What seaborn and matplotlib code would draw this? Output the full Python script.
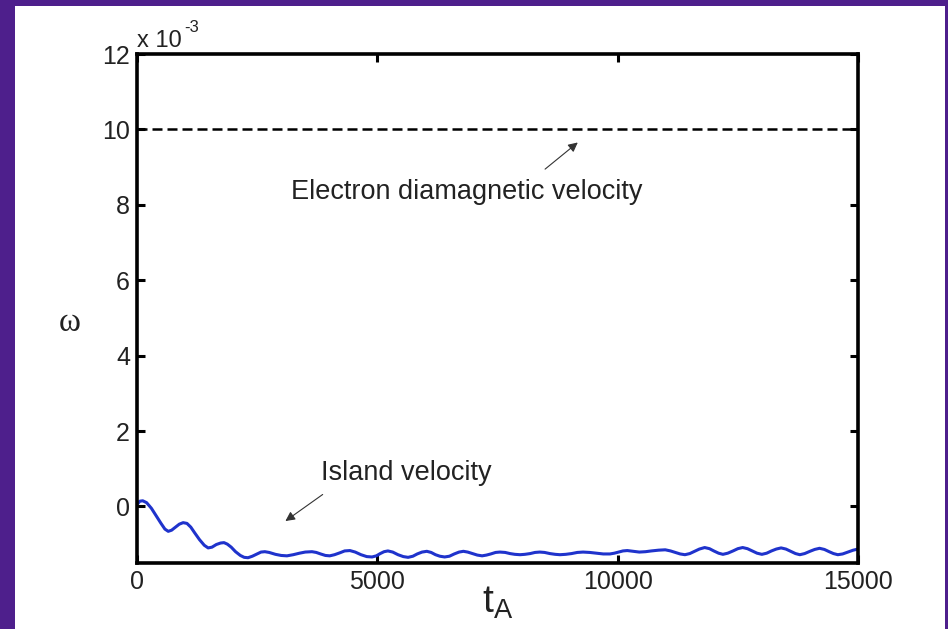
import matplotlib
matplotlib.use("Agg")
import matplotlib.pyplot as plt
import seaborn as sns
import pandas as pd

# Island velocity omega (in units of 1e-3) vs time t_A
t_island = [0, 60, 120, 200, 300, 400, 500, 580, 650, 720, 800, 880, 960, 1040, 1120,
            1200, 1300, 1400, 1480, 1560, 1650, 1740, 1810, 1880, 1960, 2050, 2150,
            2230, 2310, 2400, 2500, 2580, 2660, 2750, 2880, 3000, 3120, 3250, 3380,
            3500, 3640, 3730, 3820, 3920, 4010, 4110, 4220, 4320, 4430, 4540, 4660,
            4780, 4890, 4980, 5060, 5140, 5220, 5320, 5430, 5540, 5640, 5740, 5830,
            5930, 6030, 6120, 6210, 6300, 6400, 6500, 6600, 6700, 6790, 6880, 6980,
            7080, 7180, 7270, 7360, 7460, 7550, 7660, 7760, 7860, 7970, 8070, 8180,
            8280, 8380, 8480, 8590, 8700, 8800, 8920, 9040, 9160, 9280, 9420, 9560,
            9700, 9840, 9930, 10020, 10110, 10200, 10320, 10450, 10580, 10700, 10850,
            10990, 11100, 11200, 11300, 11400, 11500, 11600, 11700, 11810, 11910,
            12000, 12100, 12190, 12290, 12400, 12500, 12600, 12700, 12800, 12900,
            13000, 13100, 13200, 13300, 13400, 13500, 13600, 13700, 13790, 13890,
            14000, 14100, 14200, 14300, 14400, 14490, 14580, 14680, 14790, 14900, 15000]
w_island = [0.05, 0.14, 0.15, 0.10, -0.05, -0.25, -0.45, -0.60, -0.66, -0.63, -0.55,
            -0.47, -0.43, -0.45, -0.55, -0.70, -0.88, -1.03, -1.10, -1.08, -1.01, -0.97,
            -0.96, -1.00, -1.08, -1.20, -1.30, -1.35, -1.36, -1.32, -1.26, -1.21, -1.20,
            -1.22, -1.27, -1.30, -1.31, -1.28, -1.24, -1.21, -1.20, -1.22, -1.26, -1.30,
            -1.31, -1.28, -1.23, -1.18, -1.17, -1.21, -1.28, -1.33, -1.34, -1.31, -1.25,
            -1.20, -1.18, -1.21, -1.28, -1.33, -1.35, -1.32, -1.26, -1.21, -1.19, -1.22,
            -1.28, -1.32, -1.34, -1.32, -1.26, -1.21, -1.19, -1.21, -1.25, -1.29, -1.31,
            -1.29, -1.26, -1.22, -1.21, -1.22, -1.25, -1.27, -1.28, -1.27, -1.25, -1.22,
            -1.21, -1.22, -1.25, -1.27, -1.28, -1.27, -1.25, -1.22, -1.21, -1.22, -1.24,
            -1.26, -1.26, -1.24, -1.21, -1.18, -1.17, -1.19, -1.21, -1.20, -1.18, -1.16,
            -1.15, -1.18, -1.22, -1.26, -1.28, -1.25, -1.19, -1.13, -1.09, -1.12, -1.18,
            -1.24, -1.27, -1.24, -1.18, -1.12, -1.09, -1.12, -1.18, -1.24, -1.27, -1.24,
            -1.18, -1.13, -1.10, -1.13, -1.19, -1.25, -1.28, -1.25, -1.19, -1.14, -1.11,
            -1.14, -1.20, -1.25, -1.28, -1.26, -1.21, -1.16, -1.13]

# Electron diamagnetic velocity (units of 1e-3)
t_dia = [0, 15000]
w_dia = [10, 10]

x_ticks = [0, 5000, 10000, 15000]
y_ticks = [0, 2, 4, 6, 8, 10, 12]
label_dia = "Electron diamagnetic velocity"
label_island = "Island velocity"

sns.set_style("ticks")
plt.rcParams['font.family'] = ['Liberation Sans', 'DejaVu Sans']

fig = plt.figure(figsize=(9.48, 6.29), dpi=100)
fig.patch.set_facecolor('#4e1f8c')
bg = fig.add_axes([15/948, 0, (945-15)/948, 1 - 6/629], zorder=-10)
bg.set_facecolor('white')
bg.set_xticks([])
bg.set_yticks([])
for s in bg.spines.values():
    s.set_visible(False)

ax = fig.add_axes([137/948, 1 - 563/629, (858-137)/948, (563-54)/629])
ax.set_facecolor('white')

df_i = pd.DataFrame({'t': t_island, 'w': w_island})
df_d = pd.DataFrame({'t': t_dia, 'w': w_dia})
sns.lineplot(data=df_i, x='t', y='w', ax=ax, color='#1f33cc', lw=2.2, sort=False)
sns.lineplot(data=df_d, x='t', y='w', ax=ax, color='black', lw=1.8, sort=False,
             dashes=False, linestyle=(0, (4, 2)))

ax.set_xlim(0, 15000)
ax.set_ylim(-1.5, 12)
ax.set_xticks(x_ticks)
ax.set_yticks(y_ticks)
ax.set_xticklabels([str(v) for v in x_ticks])
ax.set_yticklabels([str(v) for v in y_ticks])
ax.tick_params(direction='in', length=6, width=2.2, labelsize=18, colors='black',
               labelcolor='#222222', top=True, right=True, pad=5)
for s in ax.spines.values():
    s.set_visible(True)
    s.set_linewidth(2.6)
    s.set_color('black')

ax.set_xlabel(r'$\mathregular{t_A}$', fontsize=28, labelpad=-7, color='#222222')
ax.set_ylabel('ω', fontsize=24, rotation=0, family='Liberation Serif',
              va='center', ha='center', color='#222222')
ax.yaxis.set_label_coords((70 - 137) / 721, (563 - 323) / 509)
fig.text(137/948, 1 - 47/629, 'x 10', fontsize=17, ha='left', va='baseline',
         color='#222222')
fig.text(184/948, 1 - 32/629, '-3', fontsize=12, ha='left', va='baseline',
         color='#222222')

ax.annotate('', xy=(9215, 9.7), xytext=(8445, 8.9),
            arrowprops=dict(arrowstyle='-|>', color='#333333', lw=0.8,
                            mutation_scale=14))
ax.text(6860, 8.35, label_dia, fontsize=19.5, ha='center', va='center', color='#222222')
ax.annotate('', xy=(3040, -0.43), xytext=(3910, 0.36),
            arrowprops=dict(arrowstyle='-|>', color='#333333', lw=0.8,
                            mutation_scale=14))
ax.text(5600, 0.9, label_island, fontsize=19.5, ha='center', va='center', color='#222222')

fig.savefig('out.png', dpi=100, facecolor=fig.get_facecolor())
